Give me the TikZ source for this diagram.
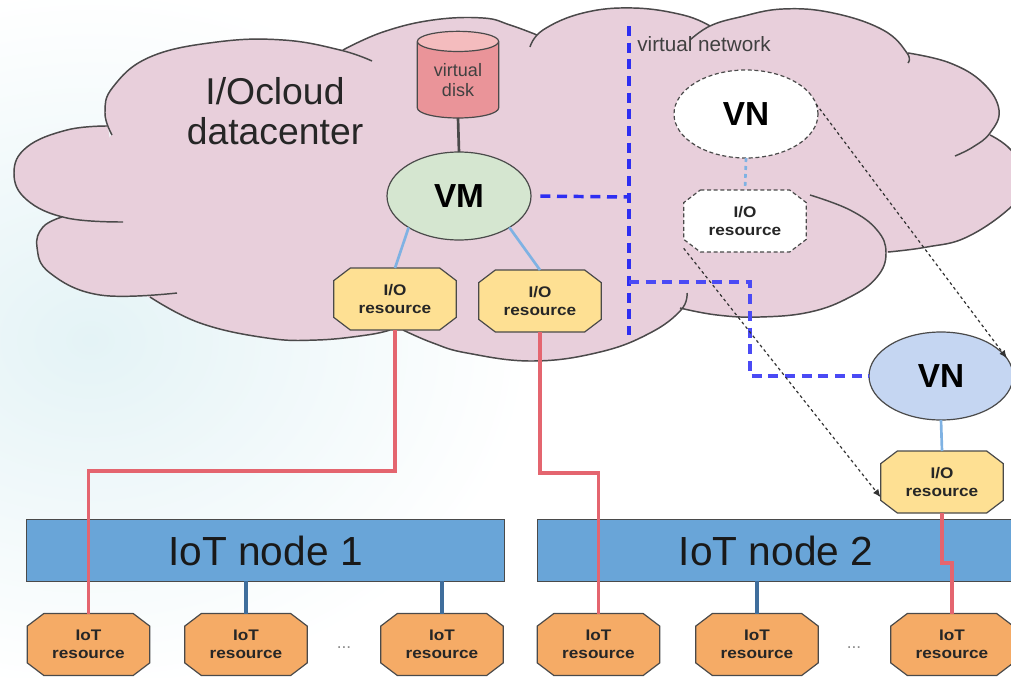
\documentclass[tikz,border=0pt]{standalone}
\usepackage{fontspec}
\setmainfont{Liberation Sans}
\newfontfamily\octfont[FakeStretch=1.12]{Liberation Sans}
\usetikzlibrary{shapes.geometric,arrows.meta}
\definecolor{cloudpink}{HTML}{E8CFDB}
\definecolor{edgegrey}{HTML}{4A4A4A}
\definecolor{iofill}{HTML}{FEE093}
\definecolor{iotfill}{HTML}{F5AB66}
\definecolor{barfill}{HTML}{69A5D8}
\definecolor{vmfill}{HTML}{D5E6D0}
\definecolor{vnfill}{HTML}{C5D6F2}
\definecolor{linkred}{HTML}{E4656F}
\definecolor{linkblue}{HTML}{7FB2E3}
\definecolor{linkdark}{HTML}{3F6E9C}
\definecolor{netblue}{HTML}{2E2EF2}
\definecolor{netpale}{HTML}{4A4AF5}
\definecolor{bgteal}{HTML}{E4F3F6}
\definecolor{diskbody}{HTML}{EA9499}
\definecolor{disktop}{HTML}{F4BCBE}
\makeatletter
\pgfdeclareshape{octagonbox}{
  \inheritsavedanchors[from=rectangle]
  \inheritanchorborder[from=rectangle]
  \inheritanchor[from=rectangle]{center}
  \inheritanchor[from=rectangle]{north}
  \inheritanchor[from=rectangle]{south}
  \inheritanchor[from=rectangle]{east}
  \inheritanchor[from=rectangle]{west}
  \backgroundpath{
    \southwest \edef\octL{\the\pgf@x}\edef\octB{\the\pgf@y}
    \northeast \edef\octR{\the\pgf@x}\edef\octT{\the\pgf@y}
    \pgfpathmoveto{\pgfpoint{\octL+12.5pt}{\octT}}
    \pgfpathlineto{\pgfpoint{\octR-12.5pt}{\octT}}
    \pgfpathlineto{\pgfpoint{\octR}{\octT-9.5pt}}
    \pgfpathlineto{\pgfpoint{\octR}{\octB+9.5pt}}
    \pgfpathlineto{\pgfpoint{\octR-12.5pt}{\octB}}
    \pgfpathlineto{\pgfpoint{\octL+12.5pt}{\octB}}
    \pgfpathlineto{\pgfpoint{\octL}{\octB+9.5pt}}
    \pgfpathlineto{\pgfpoint{\octL}{\octT-9.5pt}}
    \pgfpathclose
  }
}
\makeatother
\newcommand\lobefill[1]{\fill[cloudpink,draw=cloudpink,line width=1pt] plot[smooth,tension=.7] coordinates {#1} -- cycle;}
\newcommand\lobeline[1]{\draw[cloudedge] plot[smooth,tension=.7] coordinates {#1};}
\newcommand\alllobes[1]{%
#1{(177,293) (100,295) (50,273) (37,247) (43,227) (62,217)}
#1{(123,222) (67,218) (27,200) (14,173) (27,147) (67,130) (107,126)}
#1{(112,135) (105,113) (113,87) (150,57) (217,42) (283,40) (340,50) (372,61)}
#1{(343,50) (383,32) (433,20) (483,18) (510,25) (537,35)}
#1{(530,47) (543,30) (583,13) (633,8) (683,15) (710,26)}
#1{(690,40) (710,26) (740,17) (783,9) (833,13) (883,30) (907,53) (908,63)}
#1{(908,53) (950,63) (983,83) (999,110) (990,133) (973,147) (955,156)}
#1{(990,135) (1011,150) (1030,180) (1011,207) (967,237) (927,247) (888,252)}
#1{(810,195) (850,210) (877,230) (886,253) (877,277) (850,297) (810,312) (760,317) (717,315) (680,308)}
#1{(687,293) (681,310) (650,333) (600,352) (533,361) (467,353) (433,343) (403,330)}
#1{(150,297) (200,323) (267,338) (317,340) (367,335) (390,330)}
}
\tikzset{
  x=0.75pt,y=-0.75pt,
  cloudedge/.style={draw=edgegrey,line width=1.1pt},
  every node/.style={inner sep=0pt,outer sep=0pt,align=center},
  octbox/.style={octagonbox,minimum width=92pt,minimum height=46.5pt,draw=edgegrey,line width=0.9pt,
    font=\octfont\bfseries\fontsize{11.5}{13.5}\selectfont,text=black!85},
  iobox/.style={octbox,fill=iofill},
  iotbox/.style={octbox,fill=iotfill},
  vbox/.style={octbox,fill=white,densely dashed},
  oval/.style={ellipse,minimum width=108pt,minimum height=66pt,draw=edgegrey,line width=0.9pt,
    font=\bfseries\fontsize{25}{30}\selectfont},
  barbox/.style={rectangle,minimum width=358pt,minimum height=46pt,fill=barfill,draw=edgegrey,line width=0.8pt,
    font=\fontsize{30.5}{36}\selectfont,text=black!90},
  redlink/.style={draw=linkred,line width=2.5pt},
  palelink/.style={draw=linkblue,line width=2pt},
  darklink/.style={draw=linkdark,line width=2.4pt},
  netlink/.style={draw=netblue,line width=2.6pt,dash pattern=on 7.5pt off 5pt},
  netlinkb/.style={draw=netpale,line width=2.6pt,dash pattern=on 7.5pt off 5pt},
  maplink/.style={draw=black!80,line width=0.9pt,dash pattern=on 2.2pt off 2.2pt,-{Latex[length=6pt,width=5pt]}},
}
\begin{document}
\begin{tikzpicture}
\useasboundingbox (0,0) rectangle (1011,678);
\clip (0,0) rectangle (1011,678);
\shade[inner color=bgteal,outer color=white] (90,340) ellipse [x radius=440,y radius=350];
% cloud
\fill[cloudpink,draw=cloudpink,line width=1pt] (62,217) -- (112,135) -- (343,50) -- (433,30) -- (537,35) -- (710,26) -- (908,53) -- (990,135)
  -- (1011,207) -- (888,252) -- (680,308) -- (403,330) -- (270,325) -- (150,297) -- cycle;
\alllobes{\lobefill}
\alllobes{\lobeline}
% free ends of the network line
\coordinate (netTop) at (629,26);
\coordinate (netBottom) at (629,335);
\coordinate (netBranch) at (629,197);
\coordinate (netBranchB) at (629,282);
\coordinate (netCorner) at (750,282);
\coordinate (netCornerB) at (750,376);
% bars
\node[barbox] (bar1) at (265.5,550.5) {IoT node 1};
\node[barbox] (bar2) at (776,550.5) {IoT node 2};
% nodes
\node[cylinder,shape border rotate=90,aspect=0.42,minimum width=61pt,minimum height=65pt,
  draw=edgegrey,line width=0.9pt,cylinder uses custom fill,cylinder body fill=diskbody,cylinder end fill=disktop,
  font=\fontsize{13.5}{15}\selectfont,text=black!75] (disk) at (458,80) {virtual\\disk};
\node[oval,fill=vmfill] (VM) at (459,196) {VM};
\node[iobox] (IOa) at (395,299) {I/O\\resource};
\node[iobox] (IOb) at (540,301) {I/O\\resource};
\node[oval,fill=white,densely dashed] (VNw) at (746,114) {VN};
\node[vbox] (IOw) at (745,221) {I/O\\resource};
\node[oval,fill=vnfill] (VNb) at (941,376) {VN};
\node[iobox] (IOc) at (942,482) {I/O\\resource};
\node[iotbox] (Ra) at (88.5,644.5) {IoT\\resource};
\node[iotbox] (Rb) at (246,644.5) {IoT\\resource};
\node[iotbox] (Rc) at (442,644.5) {IoT\\resource};
\node[iotbox] (Rd) at (598.5,644.5) {IoT\\resource};
\node[iotbox] (Re) at (757,644.5) {IoT\\resource};
\node[iotbox] (Rf) at (952,644.5) {IoT\\resource};
% labels
\node[font=\fontsize{28}{30}\selectfont,text=black!85] (cloudlabel) at (275,111) {I/Ocloud\\datacenter};
\node[font=\fontsize{15.5}{18}\selectfont,text=black!75] (netlabel) at (704,44) {virtual network};
\node[font=\fontsize{13}{15}\selectfont,text=black!45] (dotsa) at (344,648) {...};
\node[font=\fontsize{13}{15}\selectfont,text=black!45] (dotsb) at (854,648) {...};
% connectors
\draw[draw=edgegrey,line width=2pt] (disk.south) -- (VM.north);
\draw[palelink] (VM.212) -- (IOa.north);
\draw[palelink] (VM.328) -- (IOb.north);
\draw[palelink,dashed] (VNw.south) -- (IOw.north);
\draw[palelink] (VNb.south) -- (IOc.north);
\draw[netlink] (netTop) -- (netBottom);
\draw[netlink,shorten <=7pt] (VM.east) -- (netBranch);
\draw[netlinkb] (netBranchB) -- (netCorner) -- (netCornerB) -- (VNb.west);
\draw[maplink] (VNw.8) -- (VNb.15);
\draw[maplink] (IOw.204) -- (IOc.194);
\draw[redlink] (IOa.south) -- (IOa.south |- 0,471) -- (Ra.north |- 0,471) -- (Ra.north);
\draw[redlink] (IOb.south) -- (IOb.south |- 0,473) -- (Rd.north |- 0,473) -- (Rd.north);
\draw[redlink] (IOc.south) -- (IOc.south |- 0,563) -- (Rf.north |- 0,563) -- (Rf.north);
\draw[darklink] (bar1.south -| Rb.north) -- (Rb.north);
\draw[darklink] (bar1.south -| Rc.north) -- (Rc.north);
\draw[darklink] (bar2.south -| Re.north) -- (Re.north);
\end{tikzpicture}
\end{document}
